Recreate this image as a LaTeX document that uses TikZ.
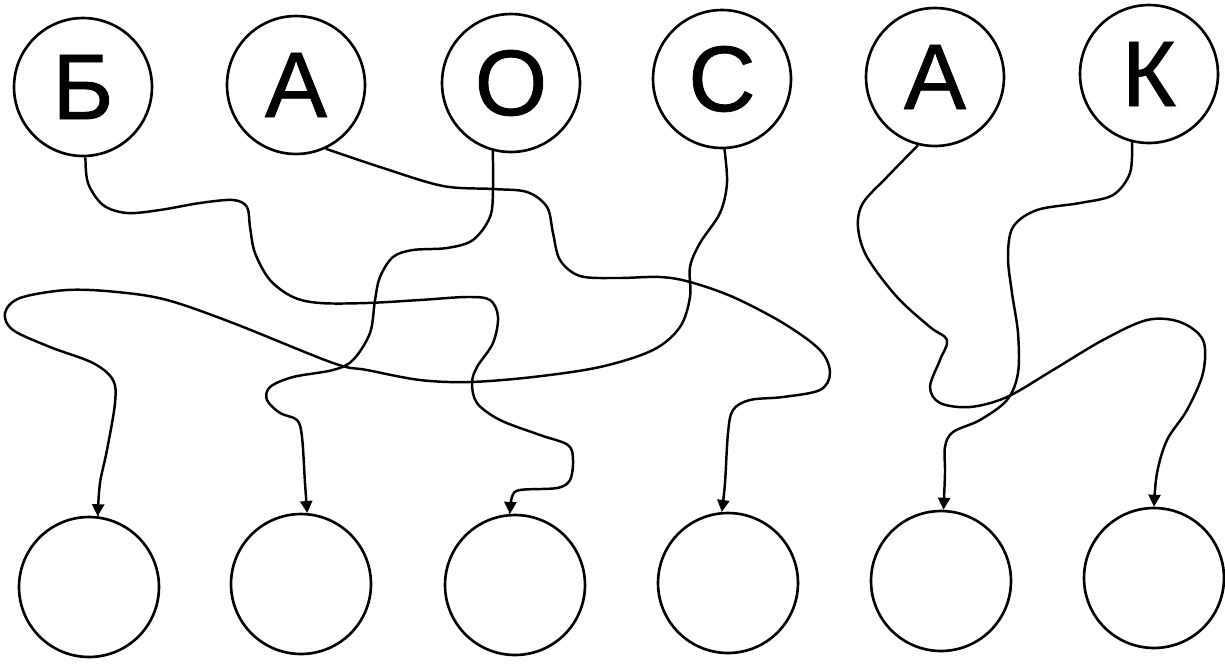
\documentclass[tikz,border=0pt]{standalone}
\usepackage{fontspec}
\setmainfont{Liberation Sans}
\newfontfamily\letterfont[FakeBold=0.9]{Liberation Sans}
\usetikzlibrary{arrows.meta}

\begin{document}
\begin{tikzpicture}[x=0.02cm, y=-0.02cm,
        letter/.style={circle, draw, line width=1.5pt, minimum size=2.76cm, inner sep=0pt,
            font=\letterfont\fontsize{53}{60}\selectfont},
        slot/.style={circle, draw, line width=1.5pt, minimum size=2.8cm, inner sep=0pt},
        wire/.style={line width=1.4pt, -{Triangle[length=0.24cm, width=0.24cm]}}]
        \useasboundingbox (0, 0) rectangle (1225, 664);
        % Letters
        \node [letter] (top1) at (83, 87) {Б};
        \node [letter] (top2) at (296, 85) {А};
        \node [letter] (top3) at (511, 83) {О};
        \node [letter] (top4) at (722, 79) {С};
        \node [letter] (top5) at (935, 77) {А};
        \node [letter] (top6) at (1149, 74) {К};
        % Empty circles
        \node [slot] (bot1) at (89, 587) {};
        \node [slot] (bot2) at (301, 584) {};
        \node [slot] (bot3) at (515, 585) {};
        \node [slot] (bot4) at (728, 583) {};
        \node [slot] (bot5) at (941, 581) {};
        \node [slot] (bot6) at (1154, 578) {};
        % Tangled lines
        \draw [wire] plot [smooth, tension=0.55] coordinates {(top1.-88) (88, 183) (103, 205) (127, 213) (160, 210) (200, 203) (233, 200) (247, 207) (250, 227) (255, 253) (270, 280) (293, 297) (320, 303) (367, 303) (420, 300) (467, 297) (490, 300) (498, 317) (493, 343) (477, 367) (472, 383) (477, 403) (500, 420) (540, 435) (568, 445) (573, 460) (570, 480) (557, 488) (520, 490) (512, 497) (bot3.94)};
        \draw [wire] plot [smooth, tension=0.55] coordinates {(top2.-65) (383, 168) (443, 186) (493, 189) (527, 192) (547, 207) (553, 233) (560, 260) (580, 276) (617, 278) (660, 277) (690, 282) (733, 297) (783, 323) (820, 350) (830, 373) (820, 390) (783, 397) (750, 400) (733, 410) (728, 433) (725, 483) (bot4.95)};
        \draw [wire] plot [smooth, tension=0.55] coordinates {(top3.-105) (493, 190) (490, 217) (473, 240) (447, 248) (413, 250) (393, 257) (380, 277) (375, 300) (370, 333) (353, 360) (333, 370) (293, 377) (270, 387) (267, 400) (280, 413) (297, 420) (302, 437) (305, 483) (bot2.85)};
        \draw [wire] plot [smooth, tension=0.55] coordinates {(top4.-88) (727, 183) (720, 213) (700, 243) (690, 267) (690, 297) (680, 327) (653, 350) (600, 367) (533, 377) (470, 382) (420, 380) (367, 370) (333, 363) (233, 323) (167, 300) (117, 292) (67, 290) (20, 298) (5, 313) (13, 330) (50, 347) (93, 363) (113, 380) (115, 403) (107, 450) (100, 483) (bot1.83)};
        \draw [wire] plot [smooth, tension=0.55] coordinates {(top5.-104) (887, 177) (863, 203) (858, 227) (867, 257) (897, 297) (930, 327) (947, 340) (940, 360) (930, 387) (940, 403) (970, 407) (1007, 397) (1053, 370) (1103, 340) (1147, 320) (1180, 322) (1203, 340) (1203, 373) (1187, 410) (1167, 440) (1157, 473) (bot6.90)};
        \draw [wire] plot [smooth, tension=0.55] coordinates {(top6.-104) (1130, 173) (1113, 195) (1080, 203) (1037, 210) (1013, 227) (1008, 257) (1012, 293) (1018, 333) (1018, 373) (1007, 400) (980, 420) (953, 432) (945, 447) (945, 473) (bot5.88)};
    \end{tikzpicture}
\end{document}
